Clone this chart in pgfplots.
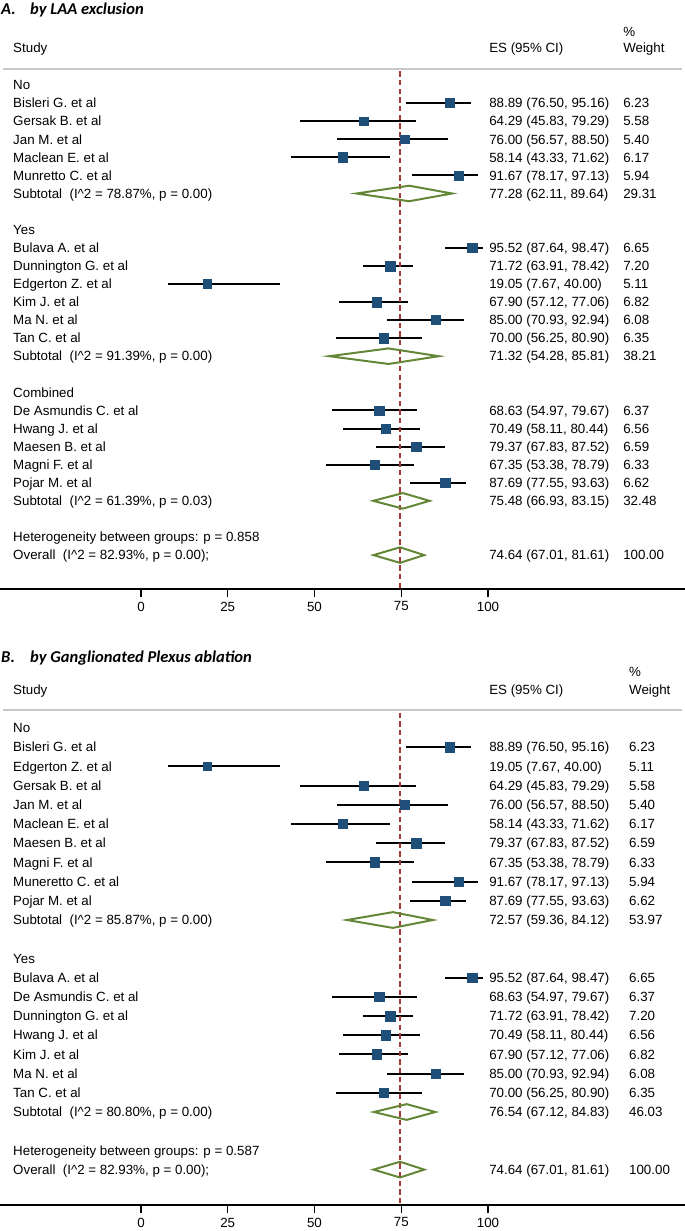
\documentclass[border=0pt]{standalone}
\usepackage{pgfplots}
\pgfplotsset{compat=1.18}
\usepackage{pgfplotstable}
\usepackage{fontspec}
\setmainfont{Liberation Sans}
\newfontfamily\titlefont{Carlito}
\definecolor{sqblue}{RGB}{31,78,121}
\definecolor{dgreen}{RGB}{100,135,55}
\definecolor{refred}{RGB}{165,55,55}
\definecolor{hgray}{RGB}{200,200,200}

\pgfplotstableread{
r es lo hi w
1 88.89 76.50 95.16 6.23
2 64.29 45.83 79.29 5.58
3 76.00 56.57 88.50 5.40
4 58.14 43.33 71.62 6.17
5 91.67 78.17 97.13 5.94
9 95.52 87.64 98.47 6.65
10 71.72 63.91 78.42 7.20
11 19.05 7.67 40.00 5.11
12 67.90 57.12 77.06 6.82
13 85.00 70.93 92.94 6.08
14 70.00 56.25 80.90 6.35
18 68.63 54.97 79.67 6.37
19 70.49 58.11 80.44 6.56
20 79.37 67.83 87.52 6.59
21 67.35 53.38 78.79 6.33
22 87.69 77.55 93.63 6.62
}\studA

\pgfplotstableread{
r es lo hi w
1 88.89 76.50 95.16 6.23
2 19.05 7.67 40.00 5.11
3 64.29 45.83 79.29 5.58
4 76.00 56.57 88.50 5.40
5 58.14 43.33 71.62 6.17
6 79.37 67.83 87.52 6.59
7 67.35 53.38 78.79 6.33
8 91.67 78.17 97.13 5.94
9 87.69 77.55 93.63 6.62
13 95.52 87.64 98.47 6.65
14 68.63 54.97 79.67 6.37
15 71.72 63.91 78.42 7.20
16 70.49 58.11 80.44 6.56
17 67.90 57.12 77.06 6.82
18 85.00 70.93 92.94 6.08
19 70.00 56.25 80.90 6.35
}\studB

\tikzset{lbl/.style={anchor=west, inner sep=0pt, font=\fontsize{10}{12}\selectfont, text height=7.16pt, text depth=0pt},
  ttl/.style={anchor=west, inner sep=0pt, font=\titlefont\bfseries\itshape\fontsize{12.4}{14}\selectfont, text height=8pt, text depth=0pt}}

\newcommand{\rwA}[4]{\node[lbl] at (axis cs:-36.89,-#1) {#2}; \node[lbl] at (axis cs:100.29,-#1) {#3}; \node[lbl] at (axis cs:138.9,-#1) {#4};}
\newcommand{\rwB}[4]{\node[lbl] at (axis cs:-36.89,-#1) {#2}; \node[lbl] at (axis cs:100.29,-#1) {#3}; \node[lbl] at (axis cs:140.6,-#1) {#4};}
\newcommand{\Isq}{I\textasciicircum{}2}

\pgfplotsset{forest/.style={
  scale only axis, width=513.75pt, xmin=-40.63, xmax=156.77,
  axis x line=bottom, axis y line=none, x axis line style={-, line width=1.1pt},
  xtick={0,25,50,75,100}, tick align=outside, major tick length=6pt,
  xtick style={black, line width=1.1pt},
  xticklabel style={font=\fontsize{10}{12}\selectfont},
  /pgf/number format/assume math mode=true,
  clip=false},
  ci/.style={only marks, mark=none, error bars/.cd, x dir=both, x explicit, error mark=none,
    error bar style={black, line width=1.5pt}},
  sq/.style={scatter, only marks, mark=square*, scatter/use mapped color={draw=sqblue, fill=sqblue},
    visualization depends on={1.39*sqrt(\thisrow{w}) \as \ms},
    scatter/@pre marker code/.append style={/tikz/mark size=\ms}},
  dia/.style={dgreen, line width=1.5pt, line join=miter, mark=none}
}

\begin{document}
\begin{tikzpicture}
% ---------------- Panel A ----------------
\begin{axis}[forest, at={(0,0)}, anchor=north west, height=441.75pt, ymin=-27.876, ymax=4.701]
\draw[hgray, line width=1.9pt] (axis cs:-39.77,0.885) -- (axis cs:155.9,0.885);
\addplot[ci] table[x=es, y expr=-\thisrow{r}, x error plus expr=\thisrow{hi}-\thisrow{es}, x error minus expr=\thisrow{es}-\thisrow{lo}] {\studA};
\addplot[refred, line width=1.1pt, dash pattern=on 4pt off 2.5pt] coordinates {(74.64,0.75) (74.64,-27.876)};
\addplot[sq] table[x=es, y expr=-\thisrow{r}] {\studA};
\addplot[dia] coordinates {(62.11,-6) (77.28,-5.57) (89.64,-6) (77.28,-6.43)} -- cycle;
\addplot[dia] coordinates {(54.28,-15) (71.32,-14.57) (85.81,-15) (71.32,-15.43)} -- cycle;
\addplot[dia] coordinates {(66.93,-23) (75.48,-22.57) (83.15,-23) (75.48,-23.43)} -- cycle;
\addplot[dia] coordinates {(67.01,-26) (74.64,-25.57) (81.61,-26) (74.64,-26.43)} -- cycle;
\node[ttl] at (axis cs:-40.35,4.20) {A.};
\node[ttl] at (axis cs:-31.99,4.20) {by LAA exclusion};
\node[lbl] at (axis cs:-36.89,2.05) {Study};
\node[lbl] at (axis cs:100.29,2.05) {ES (95\% CI)};
\node[lbl] at (axis cs:138.9,2.93) {\%};
\node[lbl] at (axis cs:138.9,2.05) {Weight};
\rwA{0}{No}{}{}
\rwA{1}{Bisleri G. et al}{88.89 (76.50, 95.16)}{6.23}
\rwA{2}{Gersak B. et al}{64.29 (45.83, 79.29)}{5.58}
\rwA{3}{Jan M. et al}{76.00 (56.57, 88.50)}{5.40}
\rwA{4}{Maclean E. et al}{58.14 (43.33, 71.62)}{6.17}
\rwA{5}{Munretto C. et al}{91.67 (78.17, 97.13)}{5.94}
\rwA{6}{Subtotal\ \ (\Isq{} = 78.87\%, p = 0.00)}{77.28 (62.11, 89.64)}{29.31}
\rwA{8}{Yes}{}{}
\rwA{9}{Bulava A. et al}{95.52 (87.64, 98.47)}{6.65}
\rwA{10}{Dunnington G. et al}{71.72 (63.91, 78.42)}{7.20}
\rwA{11}{Edgerton Z. et al}{19.05 (7.67, 40.00)}{5.11}
\rwA{12}{Kim J. et al}{67.90 (57.12, 77.06)}{6.82}
\rwA{13}{Ma N. et al}{85.00 (70.93, 92.94)}{6.08}
\rwA{14}{Tan C. et al}{70.00 (56.25, 80.90)}{6.35}
\rwA{15}{Subtotal\ \ (\Isq{} = 91.39\%, p = 0.00)}{71.32 (54.28, 85.81)}{38.21}
\rwA{17}{Combined}{}{}
\rwA{18}{De Asmundis C. et al}{68.63 (54.97, 79.67)}{6.37}
\rwA{19}{Hwang J. et al}{70.49 (58.11, 80.44)}{6.56}
\rwA{20}{Maesen B. et al}{79.37 (67.83, 87.52)}{6.59}
\rwA{21}{Magni F. et al}{67.35 (53.38, 78.79)}{6.33}
\rwA{22}{Pojar M. et al}{87.69 (77.55, 93.63)}{6.62}
\rwA{23}{Subtotal\ \ (\Isq{} = 61.39\%, p = 0.03)}{75.48 (66.93, 83.15)}{32.48}
\rwA{25}{Heterogeneity between groups: p = 0.858}{}{}
\rwA{26}{Overall\ \ (\Isq{} = 82.93\%, p = 0.00);}{74.64 (67.01, 81.61)}{100.00}
\end{axis}
% ---------------- Panel B ----------------
\begin{axis}[forest, at={(0,-463.5pt)}, anchor=north west, height=440.25pt, ymin=-24.844, ymax=5.729]
\draw[hgray, line width=1.9pt] (axis cs:-39.77,0.9375) -- (axis cs:155.9,0.9375);
\addplot[ci] table[x=es, y expr=-\thisrow{r}, x error plus expr=\thisrow{hi}-\thisrow{es}, x error minus expr=\thisrow{es}-\thisrow{lo}] {\studB};
\addplot[refred, line width=1.1pt, dash pattern=on 4pt off 2.5pt] coordinates {(74.64,0.8) (74.64,-24.844)};
\addplot[sq] table[x=es, y expr=-\thisrow{r}] {\studB};
\addplot[dia] coordinates {(59.36,-10) (72.57,-9.59) (84.12,-10) (72.57,-10.41)} -- cycle;
\addplot[dia] coordinates {(67.12,-20) (76.54,-19.59) (84.83,-20) (76.54,-20.41)} -- cycle;
\addplot[dia] coordinates {(67.01,-23) (74.64,-22.59) (81.61,-23) (74.64,-23.41)} -- cycle;
\node[ttl] at (axis cs:-40.35,3.70) {B.};
\node[ttl] at (axis cs:-31.99,3.70) {by Ganglionated Plexus ablation};
\node[lbl] at (axis cs:-36.89,1.98) {Study};
\node[lbl] at (axis cs:100.29,1.98) {ES (95\% CI)};
\node[lbl] at (axis cs:140.6,2.92) {\%};
\node[lbl] at (axis cs:140.6,1.98) {Weight};
\rwB{0}{No}{}{}
\rwB{1}{Bisleri G. et al}{88.89 (76.50, 95.16)}{6.23}
\rwB{2}{Edgerton Z. et al}{19.05 (7.67, 40.00)}{5.11}
\rwB{3}{Gersak B. et al}{64.29 (45.83, 79.29)}{5.58}
\rwB{4}{Jan M. et al}{76.00 (56.57, 88.50)}{5.40}
\rwB{5}{Maclean E. et al}{58.14 (43.33, 71.62)}{6.17}
\rwB{6}{Maesen B. et al}{79.37 (67.83, 87.52)}{6.59}
\rwB{7}{Magni F. et al}{67.35 (53.38, 78.79)}{6.33}
\rwB{8}{Muneretto C. et al}{91.67 (78.17, 97.13)}{5.94}
\rwB{9}{Pojar M. et al}{87.69 (77.55, 93.63)}{6.62}
\rwB{10}{Subtotal\ \ (\Isq{} = 85.87\%, p = 0.00)}{72.57 (59.36, 84.12)}{53.97}
\rwB{12}{Yes}{}{}
\rwB{13}{Bulava A. et al}{95.52 (87.64, 98.47)}{6.65}
\rwB{14}{De Asmundis C. et al}{68.63 (54.97, 79.67)}{6.37}
\rwB{15}{Dunnington G. et al}{71.72 (63.91, 78.42)}{7.20}
\rwB{16}{Hwang J. et al}{70.49 (58.11, 80.44)}{6.56}
\rwB{17}{Kim J. et al}{67.90 (57.12, 77.06)}{6.82}
\rwB{18}{Ma N. et al}{85.00 (70.93, 92.94)}{6.08}
\rwB{19}{Tan C. et al}{70.00 (56.25, 80.90)}{6.35}
\rwB{20}{Subtotal\ \ (\Isq{} = 80.80\%, p = 0.00)}{76.54 (67.12, 84.83)}{46.03}
\rwB{22}{Heterogeneity between groups: p = 0.587}{}{}
\rwB{23}{Overall\ \ (\Isq{} = 82.93\%, p = 0.00);}{74.64 (67.01, 81.61)}{100.00}
\end{axis}
\pgfresetboundingbox
\useasboundingbox (0,0) rectangle (513.75pt,-923.25pt);
\end{tikzpicture}
\end{document}
